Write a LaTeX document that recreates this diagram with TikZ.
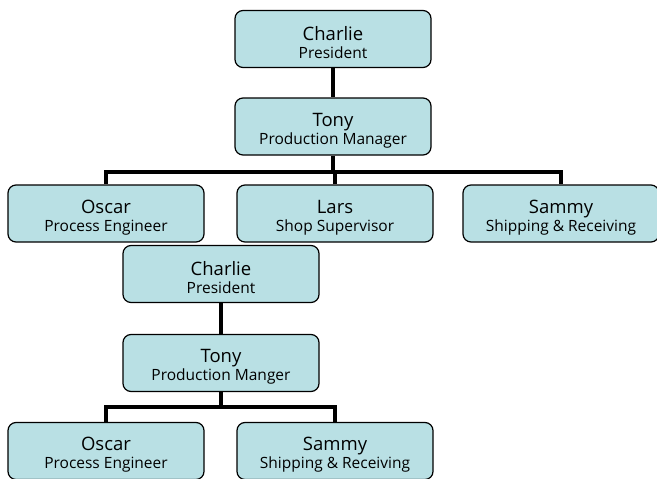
\documentclass[tikz,border=0pt]{standalone}
\usepackage{fontspec}
\setmainfont{Open Sans}
\definecolor{boxfill}{RGB}{185,224,228}
\begin{document}
\begin{tikzpicture}[x=1pt,y=-1pt,
  person/.style={draw=black, line width=1.2pt, fill=boxfill, rounded corners=8pt,
    minimum width=196pt, minimum height=57pt, inner sep=0pt, align=center,
    font=\fontsize{16}{18}\selectfont},
  link/.style={line width=4pt}]
\useasboundingbox (0,0) rectangle (657,479);
\newcommand{\pers}[2]{{\fontsize{18.5}{18}\selectfont\rule{0pt}{21pt}#1}\\{\fontsize{15.5}{18}\selectfont #2}}
\node[person] (charlie) at (333,39) {\pers{Charlie}{President}};
\node[person] (tony) at (333,126.5) {\pers{Tony}{Production Manager}};
\node[person] (oscar) at (106,213.5) {\pers{Oscar}{Process Engineer}};
\node[person] (lars) at (335,213.5) {\pers{Lars}{Shop Supervisor}};
\node[person] (sammy) at (561,213.5) {\pers{Sammy}{Shipping \& Receiving}};
\node[person] (charlieb) at (221,274) {\pers{Charlie}{President}};
\node[person] (tonyb) at (221,363) {\pers{Tony}{Production Manger}};
\node[person] (oscarb) at (106,451) {\pers{Oscar}{Process Engineer}};
\node[person] (sammyb) at (335,451) {\pers{Sammy}{Shipping \& Receiving}};
\coordinate (bar) at (333,172);
\coordinate (barb) at (221,407);
\draw[link] (charlie.south) -- (tony.north);
\draw[link] (tony.south) -- (bar);
\draw[link] (oscar.north) -- (oscar.north |- bar) -- (sammy.north |- bar) -- (sammy.north);
\draw[link] (lars.north) -- (lars.north |- bar);
\draw[link] (charlieb.south) -- (tonyb.north);
\draw[link] (tonyb.south) -- (barb);
\draw[link] (oscarb.north) -- (oscarb.north |- barb) -- (sammyb.north |- barb) -- (sammyb.north);
\end{tikzpicture}
\end{document}
